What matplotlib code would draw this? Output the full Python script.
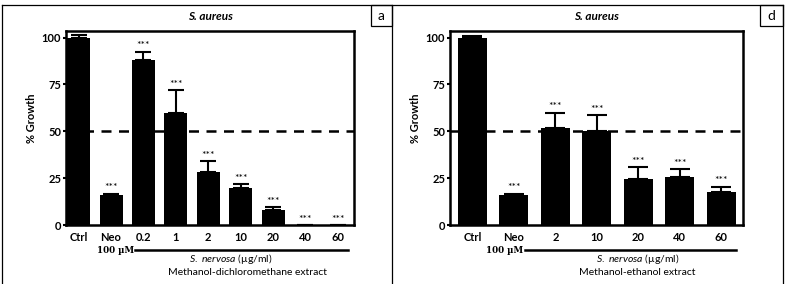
import numpy as np
import matplotlib
matplotlib.use('Agg')
import matplotlib.pyplot as plt
from matplotlib.lines import Line2D
from matplotlib.patches import Rectangle
import matplotlib.transforms as mtransforms

plt.rcParams['font.family'] = ['Lato', 'DejaVu Sans']
plt.rcParams['mathtext.fontset'] = 'custom'
plt.rcParams['mathtext.it'] = 'Lato:italic'
plt.rcParams['mathtext.rm'] = 'Lato'

# %%
# panel a: methanol-dichloromethane extract
labels_a = ['Ctrl', 'Neo', '0.2', '1', '2', '10', '20', '40', '60']
growth_a = [100, 16, 88, 60, 28.5, 20, 8, 0, 0]
err_a = [1.2, 0.8, 4.5, 12, 5.5, 2, 1.5, 0, 0]
stars_a = ['', '***', '***', '***', '***', '***', '***', '***', '***']

# panel d: methanol-ethanol extract
labels_d = ['Ctrl', 'Neo', '2', '10', '20', '40', '60']
growth_d = [100, 16, 52, 50, 24.5, 25.5, 17.5]
err_d = [1.0, 0.8, 8, 8.5, 6.5, 4.5, 3]
stars_d = ['', '***', '***', '***', '***', '***', '***']

# %%
fig = plt.figure(figsize=(7.86, 2.84), dpi=100)
W, H = 786, 284

def px_axes(x0, x1, y0, y1):
    return fig.add_axes([x0 / W, 1 - y1 / H, (x1 - x0) / W, (y1 - y0) / H])

def draw_panel(ax, labels, growth, err, stars, xlim, width, capsize,
               line_x, mu_x, text_x, extract, letter_x):
    x = np.arange(len(labels))
    ax.bar(x, growth, width=width, color='black', zorder=2)
    ax.errorbar(x, growth, yerr=[np.zeros(len(err)), err], fmt='none',
                ecolor='black', elinewidth=1.5, capsize=capsize, capthick=1.5, zorder=3)
    for xi, g, e, s in zip(x, growth, err, stars):
        if s:
            ax.text(xi, g + e + 0.6, s, ha='center', va='bottom', fontsize=7.5)
    ax.axhline(50, color='black', lw=1.8, ls=(0, (4, 3)), zorder=4)
    ax.set_xlim(*xlim)
    ax.set_ylim(0, 103.5)
    ax.set_yticks([0, 25, 50, 75, 100])
    ax.set_xticks(x)
    ax.set_xticklabels(labels)
    for sp in ax.spines.values():
        sp.set_linewidth(1.8)
    ax.tick_params(axis='y', length=2.5, width=1.5, pad=1, labelsize=8)
    ax.tick_params(axis='x', length=0, pad=5, labelsize=8)
    for t in ax.get_xticklabels() + ax.get_yticklabels():
        t.set_fontweight('bold')
    ax.set_title('S. aureus', fontsize=8.5, fontweight='bold', fontstyle='italic', pad=8)
    ax.set_ylabel('% Growth', fontsize=8, fontweight='bold')
    ax.yaxis.set_label_coords(-0.1, 0.55)

    tr = mtransforms.blended_transform_factory(ax.transData, ax.transAxes)
    ax.add_line(Line2D(line_x, [-0.129, -0.129], transform=tr, color='black',
                       lw=1.8, clip_on=False))
    ax.text(mu_x, -0.129, '100 µM', transform=tr, ha='center', va='center',
            fontsize=6.3, fontweight='bold', family=['DejaVu Serif'])
    ax.text(text_x[0], -0.174, r'$\it{S.\ nervosa}$ (µg/ml)', transform=tr,
            ha='center', va='center', fontsize=7.5)
    ax.text(text_x[1], -0.243, extract, transform=tr, ha='center', va='center',
            fontsize=7.5)

    # letter box in top right corner
    fig.add_artist(Rectangle((letter_x[0] / W, 1 - 26 / H), (letter_x[1] - letter_x[0]) / W,
                             21 / H, transform=fig.transFigure, fill=False,
                             edgecolor='black', lw=0.9))

ax_a = px_axes(66, 354, 31, 225)
draw_panel(ax_a, labels_a, growth_a, err_a, stars_a, (-0.39, 8.5), 0.71, 6,
           [1.75, 8.32], 1.13, (4.68, 5.2), 'Methanol-dichloromethane extract', (371, 392))
fig.text(381.5 / W, 1 - 15.5 / H, 'a', ha='center', va='center', fontsize=10)

ax_d = px_axes(450, 743, 31, 225)
draw_panel(ax_d, labels_d, growth_d, err_d, stars_d, (-0.54, 6.52), 0.7, 7,
           [1.27, 6.35], 0.78, (3.99, 3.96), 'Methanol-ethanol extract', (760, 783))
fig.text(771.5 / W, 1 - 15.5 / H, 'd', ha='center', va='center', fontsize=10)

# outer frame
for xs, ys in [([2, 783], [5, 5]), ([2, 2], [5, 284]), ([392, 392], [5, 284]), ([783, 783], [5, 284])]:
    fig.add_artist(Line2D([v / W for v in xs], [1 - v / H for v in ys],
                          transform=fig.transFigure, color='black', lw=0.9))

fig.savefig('out.png', dpi=100)
